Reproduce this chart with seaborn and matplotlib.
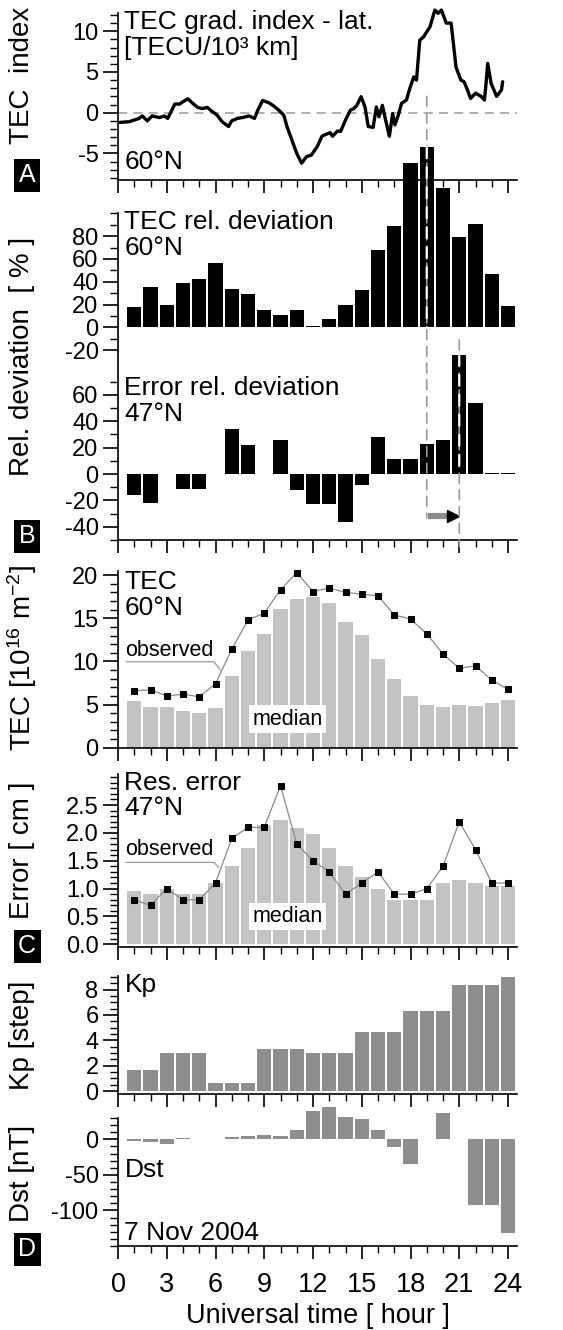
import matplotlib
matplotlib.use('Agg')
import matplotlib.pyplot as plt
import seaborn as sns
from matplotlib.patches import ConnectionPatch
from matplotlib.ticker import MultipleLocator, FixedLocator, FormatStrFormatter

# ---- data ----
hours = list(range(1, 25))

# A: TEC gradient index, 60N
idx_hour = [0.1, 0.7, 1.3, 1.5, 1.8, 2.1, 2.55, 2.85, 3.06, 3.5, 3.8, 4.0, 4.3, 4.6, 4.9,
            5.2, 5.5, 5.7, 6.1, 6.4, 6.8, 7.0, 7.35, 7.65, 8.06, 8.4, 8.6, 8.9, 9.3, 9.6,
            9.9, 10.2, 10.4, 10.7, 11.0, 11.3, 11.6, 11.9, 12.25, 12.55, 12.75, 13.06, 13.2,
            13.5, 13.7, 14.0, 14.3, 14.5, 14.7, 14.96, 15.2, 15.4, 15.7, 15.9, 16.06, 16.27,
            16.4, 16.7, 16.9, 17.04, 17.25, 17.45, 17.75, 17.96, 18.2, 18.37, 18.57, 18.8,
            19.2, 19.5, 19.7, 19.9, 20.2, 20.5, 20.8, 21.1, 21.3, 21.5, 21.7, 22.0, 22.35,
            22.55, 22.65, 22.75, 22.96, 23.3, 23.6, 23.67]
idx_val = [-1.2, -1.1, -0.7, -0.4, -1.0, -0.4, -0.6, -0.4, -0.7, 1.06, 1.06, 1.35, 1.7, 1.15,
           0.65, 0.5, 0.65, 0.3, -0.3, -1.1, -1.7, -1.0, -0.7, -0.6, -0.4, -0.7, 0.3, 1.5,
           1.2, 0.8, 0.3, -0.3, -1.7, -3.35, -5.0, -6.2, -5.4, -5.2, -4.2, -2.9, -2.7, -2.45,
           -2.9, -2.25, -2.3, -0.9, 0.3, 0.5, 0.9, 1.96, 0.7, -1.7, -1.8, 0.7, -0.5, 0.9,
           -0.3, -2.9, -0.1, -1.5, -0.3, 1.15, 1.55, 3.0, 4.4, 4.0, 8.9, 9.3, 10.55, 12.6,
           12.2, 12.6, 11.0, 11.0, 5.6, 4.0, 3.8, 2.8, 1.75, 2.4, 2.0, 1.55, 3.6, 6.05, 3.6,
           2.0, 2.8, 3.8]

# B: relative deviations [%]
tec_rel = [18, 35, 20, 39, 42, 56, 34, 29, 15, 11, 15, 1, 7, 20, 33, 68, 89, 144, 158,
           122, 79, 91, 47, 19]
err_rel = [-16, -22, 0, -11, -11, 0, 34, 22, 0, 26, -12, -23, -23, -36, -8.5, 28, 11.5,
           11.5, 23, 26, 90.5, 54, 1, 1]

# C: TEC [1e16 m^-2] and residual error [cm]
tec_median = [5.4, 4.75, 4.75, 4.3, 4.0, 4.55, 8.3, 11.2, 13.2, 16.1, 17.2, 17.5, 16.8,
              14.6, 13.05, 10.3, 8.0, 6.0, 5.0, 4.75, 5.0, 4.85, 5.2, 5.5]
tec_obs = [6.6, 6.7, 6.0, 6.2, 5.9, 7.4, 11.4, 14.8, 15.6, 18.3, 20.3, 18.1, 18.5, 18.0,
           17.8, 17.6, 15.4, 14.9, 13.2, 10.85, 9.2, 9.5, 7.85, 6.75]
err_median = [0.95, 0.9, 1.0, 0.9, 0.9, 1.1, 1.41, 1.72, 2.14, 2.24, 2.08, 1.98, 1.72,
              1.4, 1.2, 1.0, 0.8, 0.8, 0.8, 1.1, 1.15, 1.1, 1.05, 1.05]
err_obs = [0.8, 0.7, 1.0, 0.8, 0.8, 1.1, 1.9, 2.1, 2.1, 2.85, 1.8, 1.5, 1.3, 0.9, 1.1,
           1.3, 0.9, 0.9, 1.0, 1.4, 2.2, 1.7, 1.1, 1.1]

# D: Kp and Dst
kp = [1.67, 1.67, 3.0, 3.0, 3.0, 0.67, 0.67, 0.67, 3.33, 3.33, 3.33, 3.0, 3.0, 3.0,
      4.67, 4.67, 4.67, 6.33, 6.33, 6.33, 8.33, 8.33, 8.33, 9.0]
dst = [-2, -4, -6, 2, 0, 0, 3, 5, 6, 5, 13, 40, 45, 31, 29, 13, -11, -34, 0, 37, 0,
       -92, -92, -132]

# ---- style ----
sns.set_style('ticks', rc={'axes.edgecolor': 'black', 'xtick.color': 'black',
                           'ytick.color': 'black', 'text.color': 'black',
                           'axes.labelcolor': 'black'})
plt.rcParams['font.family'] = ['Liberation Sans', 'DejaVu Sans']
plt.rcParams['axes.unicode_minus'] = False
plt.rcParams['mathtext.default'] = 'regular'

W, H = 563, 1330
X0, PXH, XMAX = 118, 16.25, 24.55
FS = 19

fig = plt.figure(figsize=(W / 100, H / 100), dpi=100)


def make_axes(top, bottom, ylim, major, minor, bottom_spine=True):
    ax = fig.add_axes([X0 / W, 1 - bottom / H, XMAX * PXH / W, (bottom - top) / H])
    ax.patch.set_alpha(0)
    ax.set_xlim(0, XMAX)
    ax.set_ylim(*ylim)
    ax.spines['top'].set_visible(False)
    ax.spines['right'].set_visible(False)
    ax.spines['left'].set_linewidth(1.2)
    ax.spines['bottom'].set_linewidth(1.2)
    ax.spines['bottom'].set_visible(bottom_spine)
    ax.xaxis.set_major_locator(MultipleLocator(3))
    ax.xaxis.set_minor_locator(MultipleLocator(1))
    ax.yaxis.set_major_locator(FixedLocator(major))
    ax.yaxis.set_minor_locator(FixedLocator(minor))
    ax.tick_params(axis='y', which='major', length=11, width=1.2, labelsize=17, pad=3)
    ax.tick_params(axis='y', which='minor', length=5.5, width=1.0)
    ax.tick_params(axis='x', which='major', length=9.5, width=1.2, labelbottom=False)
    ax.tick_params(axis='x', which='minor', length=5, width=1.0)
    if not bottom_spine:
        ax.tick_params(axis='x', which='both', bottom=False)
    return ax


def frange(a, b, s):
    out, v = [], a
    while v <= b + 1e-9:
        out.append(round(v, 6))
        v += s
    return out


def bars(ax, vals, color, clip=True):
    sns.barplot(x=hours, y=vals, native_scale=True, orient='x', width=0.88, color=color,
                saturation=1, errorbar=None, edgecolor='none', linewidth=0, ax=ax)
    for p in ax.patches:
        p.set_clip_on(clip)
    ax.set_xlim(0, XMAX)
    ax.set_xlabel('')
    ax.set_ylabel('')


# ---- panel A ----
axA = make_axes(13.3, 180.3, (-8.3, 12.2), [-5, 0, 5, 10], frange(-8, 12, 1))
axA.axhline(0, color='#9a9a9a', lw=1.1, ls=(0, (6, 4)), zorder=1)
sns.lineplot(x=idx_hour, y=idx_val, color='black', lw=2.4, ax=axA, zorder=3)
for l in axA.lines:
    l.set_clip_on(False)
axA.set_xlim(0, XMAX)
axA.text(0.4, 12.6, 'TEC grad. index - lat.\n[TECU/10³ km]', fontsize=FS, va='top',
         ha='left', linespacing=1.1)
axA.text(0.4, -6.9, '60°N', fontsize=FS, va='baseline', ha='left')

# ---- panel B (two stacked parts) ----
axB1 = make_axes(213.3, 350.7, (-20.5, 100), [-20, 0, 20, 40, 60, 80], frange(-20, 100, 10),
                 bottom_spine=False)
bars(axB1, tec_rel, 'black', clip=False)
axB1.text(0.4, 103, 'TEC rel. deviation\n60°N', fontsize=FS, va='top', ha='left',
          linespacing=1.1)

axB2 = make_axes(350.7, 540, (-50, 93.5), [-40, -20, 0, 20, 40, 60], frange(-50, 70, 10))
axB2.spines['top'].set_visible(False)
bars(axB2, err_rel, 'black')
axB2.text(0.4, 74, 'Error rel. deviation\n47°N', fontsize=FS, va='top', ha='left',
          linespacing=1.1)
axB2.plot([19.05, 20.45], [-32, -32], color='#8c8c8c', lw=4.5, solid_capstyle='butt')
axB2.plot([20.62], [-32], marker='>', color='black', ms=9, ls='none')

# ---- panel C: TEC ----
axC1 = make_axes(570.8, 747.7, (0, 20.5), [0, 5, 10, 15, 20], frange(0, 20, 1))
bars(axC1, tec_median, '#c3c3c3')
sns.lineplot(x=hours, y=tec_obs, color='#8a8a8a', lw=0.9, marker='s', markersize=4.5,
             markerfacecolor='black', markeredgecolor='black', ax=axC1, zorder=4)
for l in axC1.lines:
    l.set_clip_on(False)
axC1.set_xlim(0, XMAX)
axC1.text(0.4, 20.6, 'TEC\n60°N', fontsize=FS, va='top', ha='left', linespacing=1.1)
axC1.text(0.45, 10.6, 'observed', fontsize=15.5, va='baseline', ha='left')
axC1.plot([0.5, 5.9, 6.3], [9.96, 9.96, 9.0], color='#9a9a9a', lw=0.9)
axC1.text(10.45, 3.3, 'median', fontsize=15.5, ha='center', va='center',
          bbox=dict(boxstyle='square,pad=0.15', fc='white', ec='none'))

# ---- panel C: residual error ----
axC2 = make_axes(774.4, 947.1, (-0.05, 3.05), [0, 0.5, 1.0, 1.5, 2.0, 2.5],
                 frange(0, 3.0, 0.1))
axC2.yaxis.set_major_formatter(FormatStrFormatter('%.1f'))
bars(axC2, err_median, '#c3c3c3')
sns.lineplot(x=hours, y=err_obs, color='#8a8a8a', lw=0.9, marker='s', markersize=4.5,
             markerfacecolor='black', markeredgecolor='black', ax=axC2, zorder=4)
for l in axC2.lines:
    l.set_clip_on(False)
axC2.set_xlim(0, XMAX)
axC2.text(0.4, 3.12, 'Res. error\n47°N', fontsize=FS, va='top', ha='left', linespacing=1.1)
axC2.text(0.45, 1.6, 'observed', fontsize=15.5, va='baseline', ha='left')
axC2.plot([0.5, 5.9, 6.2], [1.47, 1.47, 1.38], color='#9a9a9a', lw=0.9)
axC2.text(10.45, 0.5, 'median', fontsize=15.5, ha='center', va='center',
          bbox=dict(boxstyle='square,pad=0.15', fc='white', ec='none'))

# ---- panel D: Kp ----
axD1 = make_axes(976.3, 1094.2, (-0.25, 9.05), [0, 2, 4, 6, 8], frange(0, 9, 0.5))
bars(axD1, kp, '#8e8e8e', clip=False)
axD1.text(0.4, 9.3, 'Kp', fontsize=FS, va='top', ha='left')

# ---- panel D: Dst ----
axD2 = make_axes(1118, 1246, (-150, 30), [-100, -50, 0], frange(-150, 30, 10))
bars(axD2, dst, '#8e8e8e', clip=False)
axD2.text(0.4, -53, 'Dst', fontsize=FS, va='baseline', ha='left')
axD2.text(0.4, -141, '7 Nov 2004', fontsize=FS, va='baseline', ha='left')
axD2.tick_params(axis='x', which='major', labelbottom=True, labelsize=FS + 0.5, pad=9)
axD2.set_xticks([0, 3, 6, 9, 12, 15, 18, 21, 24])
axD2.set_xlabel('Universal time [ hour ]', fontsize=FS + 0.5, labelpad=4)
axD2.xaxis.label.set_visible(True)

# ---- dashed guide lines across panels ----
grey_dash = dict(color='#9a9a9a', lw=1.2, linestyle=(0, (6, 4)), zorder=5)
white_dash = dict(color='white', lw=1.6, linestyle=(0, (5, 4)), zorder=6)
fig.add_artist(ConnectionPatch(xyA=(19, 2.0), coordsA=axA.transData, xyB=(19, -33),
                               coordsB=axB2.transData, **grey_dash))
fig.add_artist(ConnectionPatch(xyA=(21, -11), coordsA=axB1.transData, xyB=(21, -55),
                               coordsB=axB2.transData, **grey_dash))
fig.add_artist(ConnectionPatch(xyA=(19, tec_rel[18]), coordsA=axB1.transData,
                               xyB=(19, 0), coordsB=axB1.transData, **white_dash))
fig.add_artist(ConnectionPatch(xyA=(21, err_rel[20]), coordsA=axB2.transData,
                               xyB=(21, 0), coordsB=axB2.transData, **white_dash))

# ---- y labels and panel letters ----
ylabels = [('TEC  index', 75), ('Rel. deviation  [ % ]', 356),
           ('TEC [10$^{16}$ m$^{-2}$]', 658), ('Error [ cm ]', 850),
           ('Kp [step]', 1035), ('Dst [nT]', 1173)]
for txt, yc in ylabels:
    fig.text(22 / W, 1 - yc / H, txt, rotation=90, fontsize=20, ha='center', va='center')

for letter, yc in [('A', 175), ('B', 536), ('C', 946), ('D', 1249)]:
    fig.text(27 / W, 1 - yc / H, letter, color='white', fontsize=18, ha='center',
             va='center', bbox=dict(boxstyle='square,pad=0.18', fc='black', ec='none'))

fig.savefig('out.png', dpi=100)
